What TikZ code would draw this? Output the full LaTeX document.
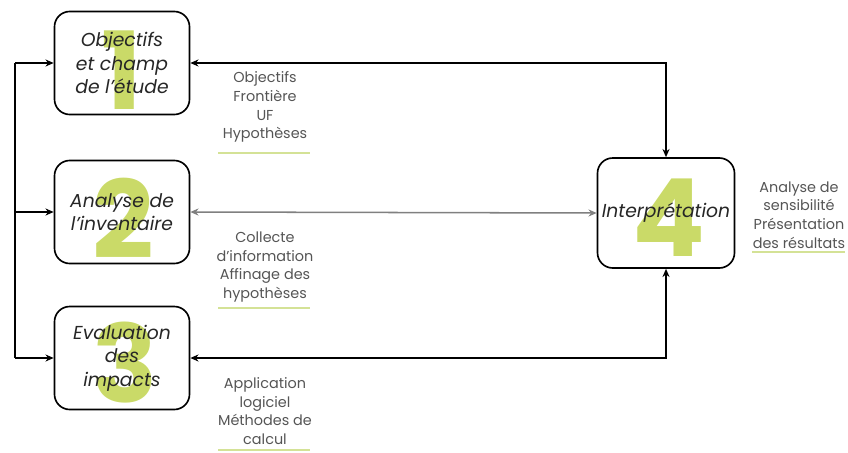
\documentclass[tikz,border=0pt]{standalone}
\usepackage{fontspec}
\setmainfont{Poppins}
\usetikzlibrary{arrows.meta}
\definecolor{lime}{RGB}{202,218,104}
\definecolor{limeline}{RGB}{212,226,150}
\definecolor{txtgray}{RGB}{85,85,85}
\tikzset{
  phase/.style={draw, rounded corners=13pt, line width=1.4pt, minimum width=135*0.03cm,
    minimum height=103*0.03cm, align=center, font=\fontsize{16}{20}\selectfont\itshape, text=black!85},
  bignum/.style={font=\fontsize{92}{92}\selectfont\bfseries, text=lime},
  note/.style={align=center, font=\fontsize{12.3}{16}\selectfont, text=txtgray},
  uline/.style={limeline, line width=1.6pt},
  link/.style={line width=1.3pt, {Stealth[length=7pt,width=6pt]}-{Stealth[length=7pt,width=6pt]}},
  feed/.style={line width=1.3pt, -{Stealth[length=7pt,width=6pt]}}
}
\begin{document}
\begin{tikzpicture}[x=0.03cm,y=-0.03cm]
\useasboundingbox (0,0) rectangle (848,453);
% big numbers behind
\node[bignum] (n1) at (122,70) {1};
\node[bignum] (n2) at (123,218) {2};
\node[bignum] (n3) at (125,363) {3};
\node[bignum] (n4) at (669,218) {4};
% phases
\node[phase] (b1) at (122,63) {Objectifs\\et champ\\de l'étude};
\node[phase] (b2) at (122,212) {Analyse de\\l'inventaire};
\node[phase] (b3) at (122,358) {Evaluation\\des\\impacts};
\node[phase, minimum width=137*0.03cm, minimum height=110*0.03cm] (b4) at (666,213) {Interprétation};
% left feedback
\coordinate (l1) at (15,63);
\coordinate (l2) at (15,212);
\coordinate (l3) at (15,358);
\draw[line width=1.3pt] (l1) -- (l3);
\draw[feed] (l1) -- (b1.west);
\draw[feed] (l2) -- (b2.west);
\draw[feed] (l3) -- (b3.west);
% links to interpretation
\draw[link] (b1.east) -- (b1.east -| b4.north) -- (b4.north);
\draw[link, gray] (b2.east) -- (b4.west);
\draw[link] (b3.east) -- (b3.east -| b4.south) -- (b4.south);
% notes
\node[note] (t1) at (265,107) {Objectifs\\Frontière\\UF\\Hypothèses};
\node[note] (t2) at (265,267) {Collecte\\d'information\\Affinage des\\hypothèses};
\node[note] (t3) at (265,411) {Application\\logiciel\\Méthodes de\\calcul};
\node[note] (t4) at (799,215) {Analyse de\\sensibilité\\Présentation\\des résultats};
\draw[uline] (218,153) -- (310,153);
\draw[uline] (218,308) -- (310,308);
\draw[uline] (218,450) -- (310,450);
\draw[uline] (752,252) -- (845,252);
\end{tikzpicture}
\end{document}
